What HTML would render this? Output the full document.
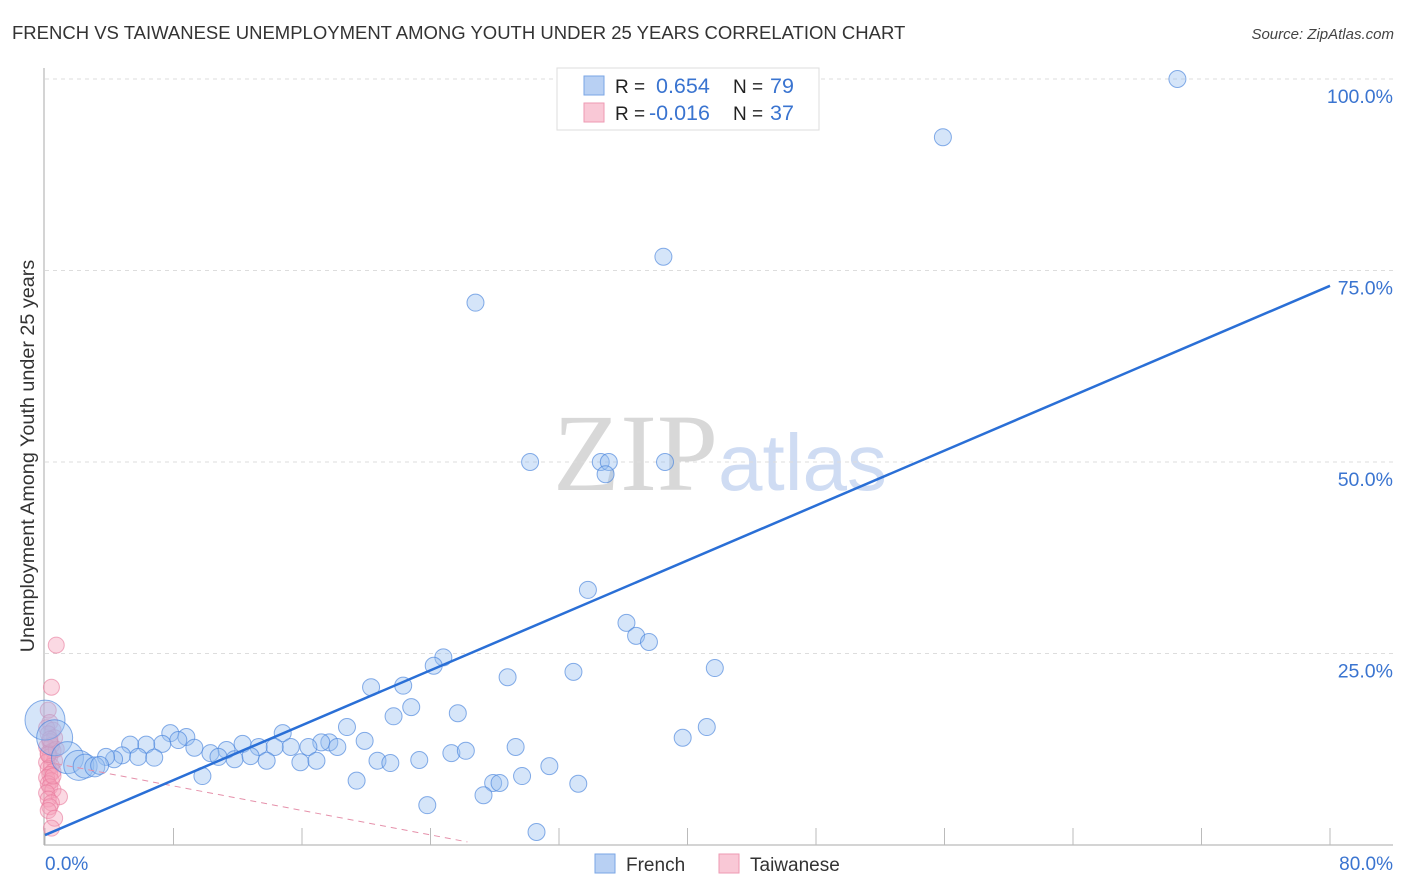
<!DOCTYPE html>
<html><head><meta charset="utf-8"><style>
body{margin:0;background:#fff;font-family:"Liberation Sans",sans-serif;}
svg{display:block}
</style></head><body>
<svg width="1406" height="892" xmlns="http://www.w3.org/2000/svg" id="chart">
<text x="12" y="39" font-size="18.5" fill="#333">FRENCH VS TAIWANESE UNEMPLOYMENT AMONG YOUTH UNDER 25 YEARS CORRELATION CHART</text>
<text x="1394" y="39" font-size="15" fill="#444" font-style="italic" text-anchor="end">Source: ZipAtlas.com</text>
<text x="553" y="490" font-size="110" fill="#d8d8d8" font-family="Liberation Serif,serif">ZIP</text>
<text x="718" y="490" font-size="80" fill="#cfdcf3">atlas</text>
<g id="grid"></g>
<g id="axes"></g>
<text transform="translate(34,456) rotate(-90)" font-size="19.8" fill="#333" text-anchor="middle">Unemployment Among Youth under 25 years</text>
<g id="marks"></g>
<g>
<rect x="557" y="68" width="262" height="62" fill="#fff" stroke="#ddd"/>
<rect x="584" y="76" width="20" height="19" fill="#b8d0f3" stroke="#7aa6e6"/>
<rect x="584" y="103" width="20" height="19" fill="#f9c8d6" stroke="#ee9ab3"/>
<text x="615" y="93" font-size="19" fill="#222">R = </text><text x="656" y="93" font-size="21.5" fill="#3a74d0">0.654</text>
<text x="733" y="93" font-size="19" fill="#222">N = </text><text x="770" y="93" font-size="21.5" fill="#3a74d0">79</text>
<text x="615" y="120" font-size="19" fill="#222">R = </text><text x="649" y="120" font-size="21.5" fill="#3a74d0">-0.016</text>
<text x="733" y="120" font-size="19" fill="#222">N = </text><text x="770" y="120" font-size="21.5" fill="#3a74d0">37</text>
</g>
<g>
<rect x="595" y="854" width="20" height="19" fill="#b8d0f3" stroke="#7aa6e6"/>
<text x="626" y="871" font-size="19" fill="#333">French</text>
<rect x="719" y="854" width="20" height="19" fill="#f9c8d6" stroke="#ee9ab3"/>
<text x="750" y="871" font-size="19" fill="#333">Taiwanese</text>
</g>
</svg>
<script>
const yTicks=[25,50,75,100];
const yTickLabels=["25.0%","50.0%","75.0%","100.0%"];
const xTicks=[0,8,16,24,32,40,48,56,64,72,80];
const frenchX=[70.5,55.9,38.5,26.8,30.2,34.6,35.1,34.9,38.6,33.8,36.2,36.8,37.6,41.7,32.9,24.8,24.2,28.8,22.3,20.3,22.8,21.7,25.7,18.8,14.8,7.8,8.8,19.9,39.7,41.2,29.3,17.7,17.2,18.2,16.4,15.3,14.3,13.3,12.3,11.3,10.3,9.3,8.3,7.3,6.3,5.3,4.8,4.3,3.8,5.8,6.8,10.8,11.8,12.8,13.8,15.9,16.9,20.7,21.5,23.3,25.3,26.2,9.8,19.4,29.7,31.4,27.9,28.3,27.3,23.8,33.2,30.6,0,0.6,1.4,2.1,2.5,3.1,3.4];
const frenchY=[100,92.4,76.8,70.8,50,50,50,48.4,50,33.3,29,27.3,26.5,23.1,22.6,24.5,23.4,21.9,20.8,20.6,18,16.8,17.2,15.4,14.6,14.6,14.1,13.6,14,15.4,12.8,13.4,13.4,12.8,12.8,12.8,12.8,12.8,13.2,12.4,12,12.7,13.7,13.2,13.1,13.1,11.7,11.2,11.5,11.5,11.4,11.5,11.2,11.6,11,10.8,11,11,10.7,11.1,12,12.3,9,8.4,9,10.3,8.1,8.1,6.5,5.2,8,1.7,16.3,14,11.4,10.4,10.3,10.2,10.4];
const frenchBig=[20,18,16,15,12,10,9];
const taiwanX=[0.7,0.4,0.2,0.3,0.1,0.5,0.2,0.6,0.3,0.4,0.1,0.5,0.2,0.3,0.6,0.1,0.4,0.2,0.5,0.3,0.1,0.4,0.2,0.3,0.5,0.1,0.9,0.2,0.4,0.3,0.2,0.6,0.4,0.7,0.5,0.2,0.3];
const taiwanY=[26.1,20.6,17.6,16,15.3,15,14.5,14,13.5,13,12.8,12.3,12,11.5,11,10.8,10.3,10,9.6,9.2,8.8,8.4,8,7.6,7.2,6.8,6.3,6,5.5,5,4.5,3.5,2.2,12.5,9,11.8,13.8];
const frenchFit=[1.3,73];
const taiwanFit=[10.9,0.4,26.3];
const NS="http://www.w3.org/2000/svg";
const sx=v=>45+v*(1330-45)/80, sy=v=>845-v*(845-79)/100;
function mk(tag,attrs,parent){const e=document.createElementNS(NS,tag);for(const k in attrs)e.setAttribute(k,attrs[k]);parent.appendChild(e);return e;}
const grid=document.getElementById('grid'),axes=document.getElementById('axes'),marks=document.getElementById('marks');
yTicks.forEach((t,i)=>{
 const l=mk('line',{x1:45,x2:1393,y1:sy(t),y2:sy(t),stroke:'#ddd','stroke-dasharray':'4,4'},grid);
 
 
 const tx=mk('text',{x:1393,y:sy(t)+24,'font-size':19.5,fill:'#3a74d0','text-anchor':'end'},axes);
 tx.textContent=yTickLabels[i];
 
 
});
const ya=mk('line',{x1:44,x2:44,y1:68,y2:845,stroke:'#aaa'},axes);


const xa=mk('line',{x1:44,x2:1393,y1:845,y2:845,stroke:'#aaa'},axes);


xTicks.forEach(t=>{
 const l=mk('line',{x1:sx(t),x2:sx(t),y1:828,y2:845,stroke:'#bbb'},axes);
 
 
});
const xl0=mk('text',{x:45,y:870,'font-size':19,fill:'#3a74d0'},axes);xl0.textContent='0.0%';


const xl1=mk('text',{x:1393,y:870,'font-size':19,fill:'#3a74d0','text-anchor':'end'},axes);xl1.textContent='80.0%';


taiwanX.forEach((x,i)=>{
 const c=mk('circle',{cx:sx(x),cy:sy(taiwanY[i]),r:8,fill:'rgba(244,160,185,0.4)',stroke:'rgba(232,120,155,0.6)'},marks);
 
 
});
const n=frenchX.length;
frenchX.forEach((x,i)=>{
 const bi=i-(n-frenchBig.length);
 const r=bi>=0?frenchBig[bi]:8.5;
 const c=mk('circle',{cx:sx(x),cy:sy(frenchY[i]),r:r,fill:'rgba(150,190,240,0.4)',stroke:'rgba(70,130,220,0.65)'},marks);
 
 
});
const tl=mk('line',{x1:sx(0),y1:sy(taiwanFit[0]),x2:sx(taiwanFit[2]),y2:sy(taiwanFit[1]),stroke:'#e590aa','stroke-dasharray':'6,5','stroke-width':1},marks);


const fl=mk('line',{x1:sx(0),y1:sy(frenchFit[0]),x2:sx(80),y2:sy(frenchFit[1]),stroke:'#2a6fd6','stroke-width':2.5},marks);


</script>
</body></html>
